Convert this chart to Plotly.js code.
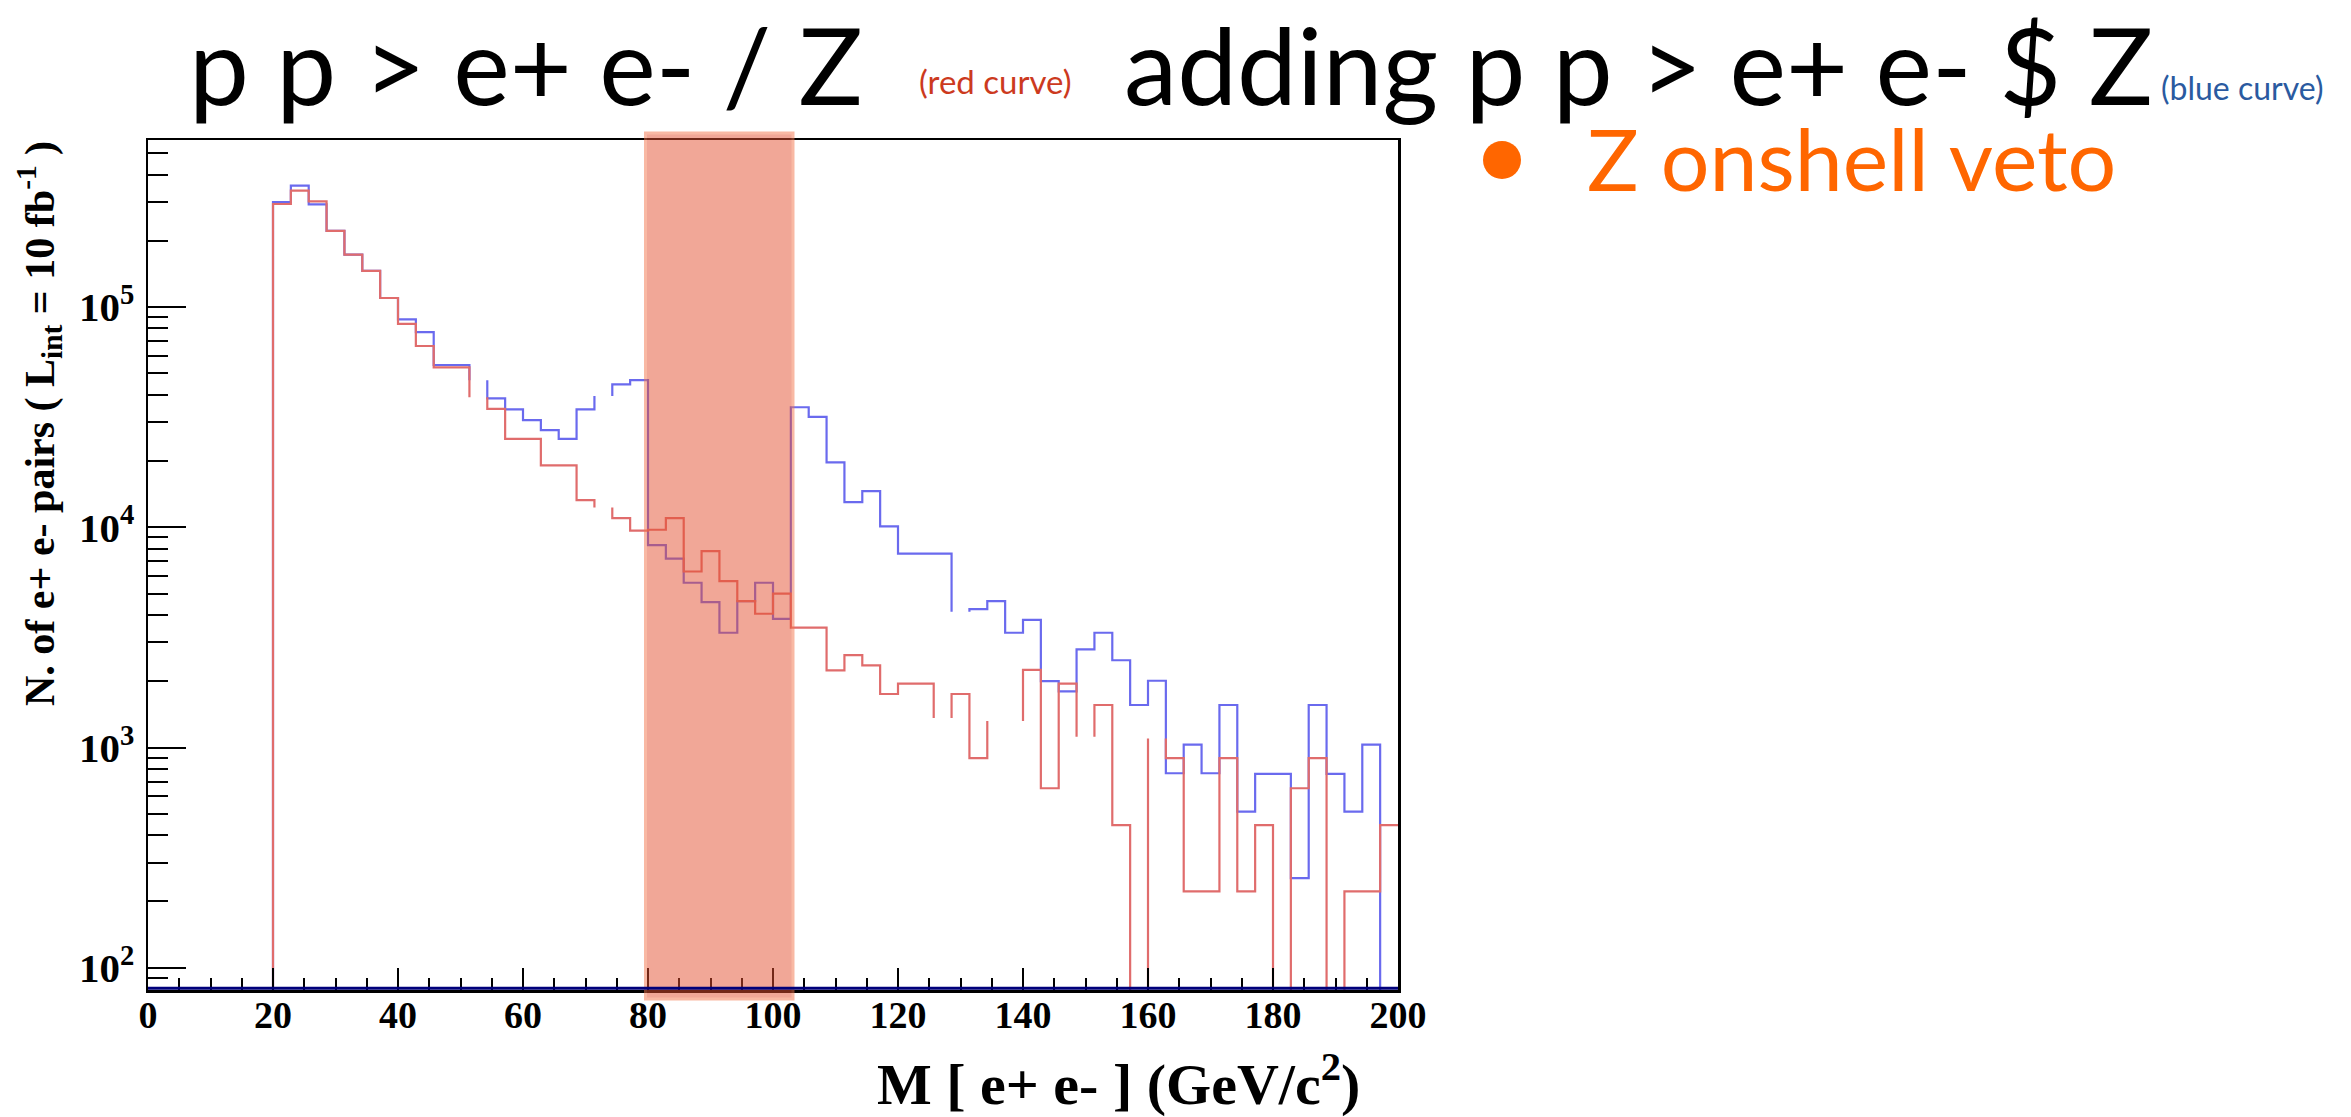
<!DOCTYPE html>
<html>
<head>
<meta charset="utf-8">
<script src="https://cdn.plot.ly/plotly-3.0.1.min.js"></script>
<style>html,body{margin:0;padding:0;background:#fff;}#chart{width:2351px;height:1117px;}</style>
</head>
<body>
<div id="chart"></div>
<script>
// ---- data (histogram of M[e+e-], 70 bins over 0-200 GeV; filled bins start at 20 GeV) ----
const histMin = 0;
const histMax = 200;
const nBins = 70;
const firstFilledBin = 7;            // bin starting at 20 GeV
// blue curve: p p > e+ e- $ Z
const blueCounts = [3.0e5, 3.56e5, 2.93e5, 2.22e5, 1.73e5, 1.46e5, 1.10e5, 8.8e4, 7.7e4, 5.46e4,
  5.46e4, 4.66e4, 3.85e4, 3.43e4, 3.07e4, 2.76e4, 2.52e4, 3.43e4, 3.95e4, 4.46e4,
  4.66e4, 8.3e3, 7.2e3, 5.6e3, 4.57e3, 3.32e3, 4.62e3, 5.6e3, 3.84e3, 3.51e4,
  3.17e4, 1.97e4, 1.30e4, 1.46e4, 1.01e4, 7.6e3, 7.6e3, 7.6e3, 4.13e3, 4.25e3,
  4.62e3, 3.32e3, 3.80e3, 2.0e3, 1.80e3, 2.79e3, 3.32e3, 2.49e3, 1.56e3, 2.01e3,
  764, 1030, 764, 1560, 511, 759, 759, 255, 1560, 759,
  511, 1030, 0];
// red curve: p p > e+ e- / Z
const redCounts = [2.94e5, 3.38e5, 3.02e5, 2.22e5, 1.73e5, 1.46e5, 1.10e5, 8.4e4, 6.66e4, 5.33e4,
  5.33e4, 3.9e4, 3.45e4, 2.52e4, 2.52e4, 1.91e4, 1.91e4, 1.33e4, 1.23e4, 1.10e4,
  9.65e3, 9.75e3, 1.10e4, 6.3e3, 7.8e3, 5.7e3, 4.62e3, 4.05e3, 5.0e3, 3.5e3,
  3.5e3, 2.24e3, 2.63e3, 2.36e3, 1.75e3, 1.95e3, 1.95e3, 1.36e3, 1.75e3, 894,
  1.32e3, 1.32e3, 2.25e3, 653, 1.95e3, 1.12e3, 1.56e3, 444, 0, 1.10e3,
  894, 222, 222, 894, 222, 444, 0, 653, 894, 0,
  222, 222, 444];
// bins whose top segment is not drawn in the original picture
const blueHiddenTops = [11, 18, 38];
const redHiddenTops = [11, 18, 37, 40, 41, 45, 49];
// Z on-shell veto window (GeV)
const vetoWindow = [79.6, 103.2];
const xTickLabels = ['0','20','40','60','80','100','120','140','160','180','200'];
const yTickValues = [100, 1000, 10000, 100000];
const yTickLabels = ['10<sup>2</sup>', '10<sup>3</sup>', '10<sup>4</sup>', '10<sup>5</sup>'];

const binWidth = (histMax - histMin) / nBins;
const floorValue = 10; // empty bins fall below the axis range

function stepOutline(counts, hidden) {
  const xs = [], ys = [];
  const lo = histMin + firstFilledBin * binWidth;
  xs.push(lo); ys.push(floorValue);
  for (let i = 0; i < counts.length; i++) {
    const e0 = lo + i * binWidth, e1 = lo + (i + 1) * binWidth;
    const v = counts[i] > 0 ? counts[i] : floorValue;
    xs.push(e0); ys.push(v);
    if (hidden.indexOf(i) >= 0) { xs.push(null); ys.push(null); }
    xs.push(e1); ys.push(v);
  }
  return {xs, ys};
}

const blue = stepOutline(blueCounts, blueHiddenTops);
const red = stepOutline(redCounts, redHiddenTops);

const traces = [
  {x: blue.xs, y: blue.ys, type: 'scatter', mode: 'lines', connectgaps: false,
   line: {color: '#6a6aee', width: 2.2}, hoverinfo: 'skip', showlegend: false},
  {x: red.xs, y: red.ys, type: 'scatter', mode: 'lines', connectgaps: false,
   line: {color: '#e06c6c', width: 2.2}, hoverinfo: 'skip', showlegend: false}
];

const axisFont = {family: 'Liberation Serif, Times New Roman, serif', color: '#000'};
const L = 148, R = 953, T = 140, B = 127;
const PW = 2351 - L - R, PH = 1117 - T - B;
function px(x) { return (x - L) / PW; }
function py(y) { return (1117 - B - y) / PH; }

const layout = {
  width: 2351, height: 1117, autosize: false,
  margin: {l: L, r: R, t: T, b: B, pad: 0},
  paper_bgcolor: '#fff', plot_bgcolor: '#fff',
  showlegend: false,
  xaxis: {
    range: [histMin, histMax], tickmode: 'array',
    tickvals: xTickLabels.map(Number), ticktext: xTickLabels,
    ticks: 'inside', ticklen: 22, tickwidth: 2, tickcolor: '#000',
    minor: {ticks: 'inside', ticklen: 12, tickwidth: 2, tickcolor: '#000', dtick: 5, tick0: 0, showgrid: false},
    showgrid: false, zeroline: false, showline: true, linecolor: '#000', linewidth: 2.5, mirror: true,
    tickfont: Object.assign({size: 38, weight: 'bold'}, axisFont), ticklabelstandoff: -10
  },
  yaxis: {
    type: 'log', range: [Math.log10(79.2), Math.log10(5.74e5)],
    tickmode: 'array', tickvals: yTickValues, ticktext: yTickLabels,
    ticks: 'inside', ticklen: 38, tickwidth: 2, tickcolor: '#000',
    minor: {ticks: 'inside', ticklen: 20, tickwidth: 2, tickcolor: '#000', dtick: 'D1', showgrid: false},
    showgrid: false, zeroline: false, showline: true, linecolor: '#000', linewidth: 2.5, mirror: true,
    tickfont: Object.assign({size: 41, weight: 'bold'}, axisFont), ticklabelstandoff: 3
  },
  shapes: [
    {type: 'rect', xref: 'x', yref: 'paper', x0: vetoWindow[0], x1: vetoWindow[1], y0: py(999), y1: py(133),
     fillcolor: 'rgb(229,81,49)', opacity: 0.5, line: {color: 'rgb(245,118,76)', width: 3}, layer: 'above'},
    {type: 'line', xref: 'paper', yref: 'paper', x0: 0, x1: 1, y0: 0.002, y1: 0.002,
     line: {color: '#00007a', width: 3}, layer: 'above'},
    {type: 'circle', xref: 'paper', yref: 'paper', x0: px(1483), x1: px(1521), y0: py(179), y1: py(141),
     fillcolor: '#ff6600', line: {width: 0}}
  ],
  annotations: [
    {text: 'p p &gt; e+ e- / Z', xref: 'paper', yref: 'paper', x: px(187), y: py(63), xanchor: 'left', yanchor: 'middle',
     showarrow: false, font: {family: 'Lato, Open Sans, sans-serif', size: 107, color: '#000'}},
    {text: '(red curve)', xref: 'paper', yref: 'paper', x: px(917), y: py(81), xanchor: 'left', yanchor: 'middle',
     showarrow: false, font: {family: 'Lato, Open Sans, sans-serif', size: 33, color: '#cc3a1e'}},
    {text: 'adding p p &gt; e+ e- $ Z', xref: 'paper', yref: 'paper', x: px(1122), y: py(63), xanchor: 'left', yanchor: 'middle',
     showarrow: false, font: {family: 'Lato, Open Sans, sans-serif', size: 107, color: '#000'}},
    {text: '(blue curve)', xref: 'paper', yref: 'paper', x: px(2159), y: py(88), xanchor: 'left', yanchor: 'middle',
     showarrow: false, font: {family: 'Lato, Open Sans, sans-serif', size: 32, color: '#2a5aa0'}},
    {text: 'Z onshell veto', xref: 'paper', yref: 'paper', x: px(1585), y: py(158), xanchor: 'left', yanchor: 'middle',
     showarrow: false, font: {family: 'Lato, Open Sans, sans-serif', size: 86, color: '#ff6600'}},
    {text: 'M [ e+ e- ] (GeV/c<sup>2</sup>)', xref: 'paper', yref: 'paper', x: px(1362), y: py(1080), xanchor: 'right', yanchor: 'middle',
     showarrow: false, font: Object.assign({size: 58, weight: 'bold'}, axisFont)},
    {text: 'N. of e+ e- pairs ( L<sub>int</sub> = 10 fb<sup>-1</sup> )', xref: 'paper', yref: 'paper', x: px(39), y: py(424),
     xanchor: 'center', yanchor: 'middle', textangle: -90,
     showarrow: false, font: Object.assign({size: 42, weight: 'bold'}, axisFont)}
  ]
};

Plotly.newPlot('chart', traces, layout, {staticPlot: true, displayModeBar: false});
</script>
</body>
</html>
